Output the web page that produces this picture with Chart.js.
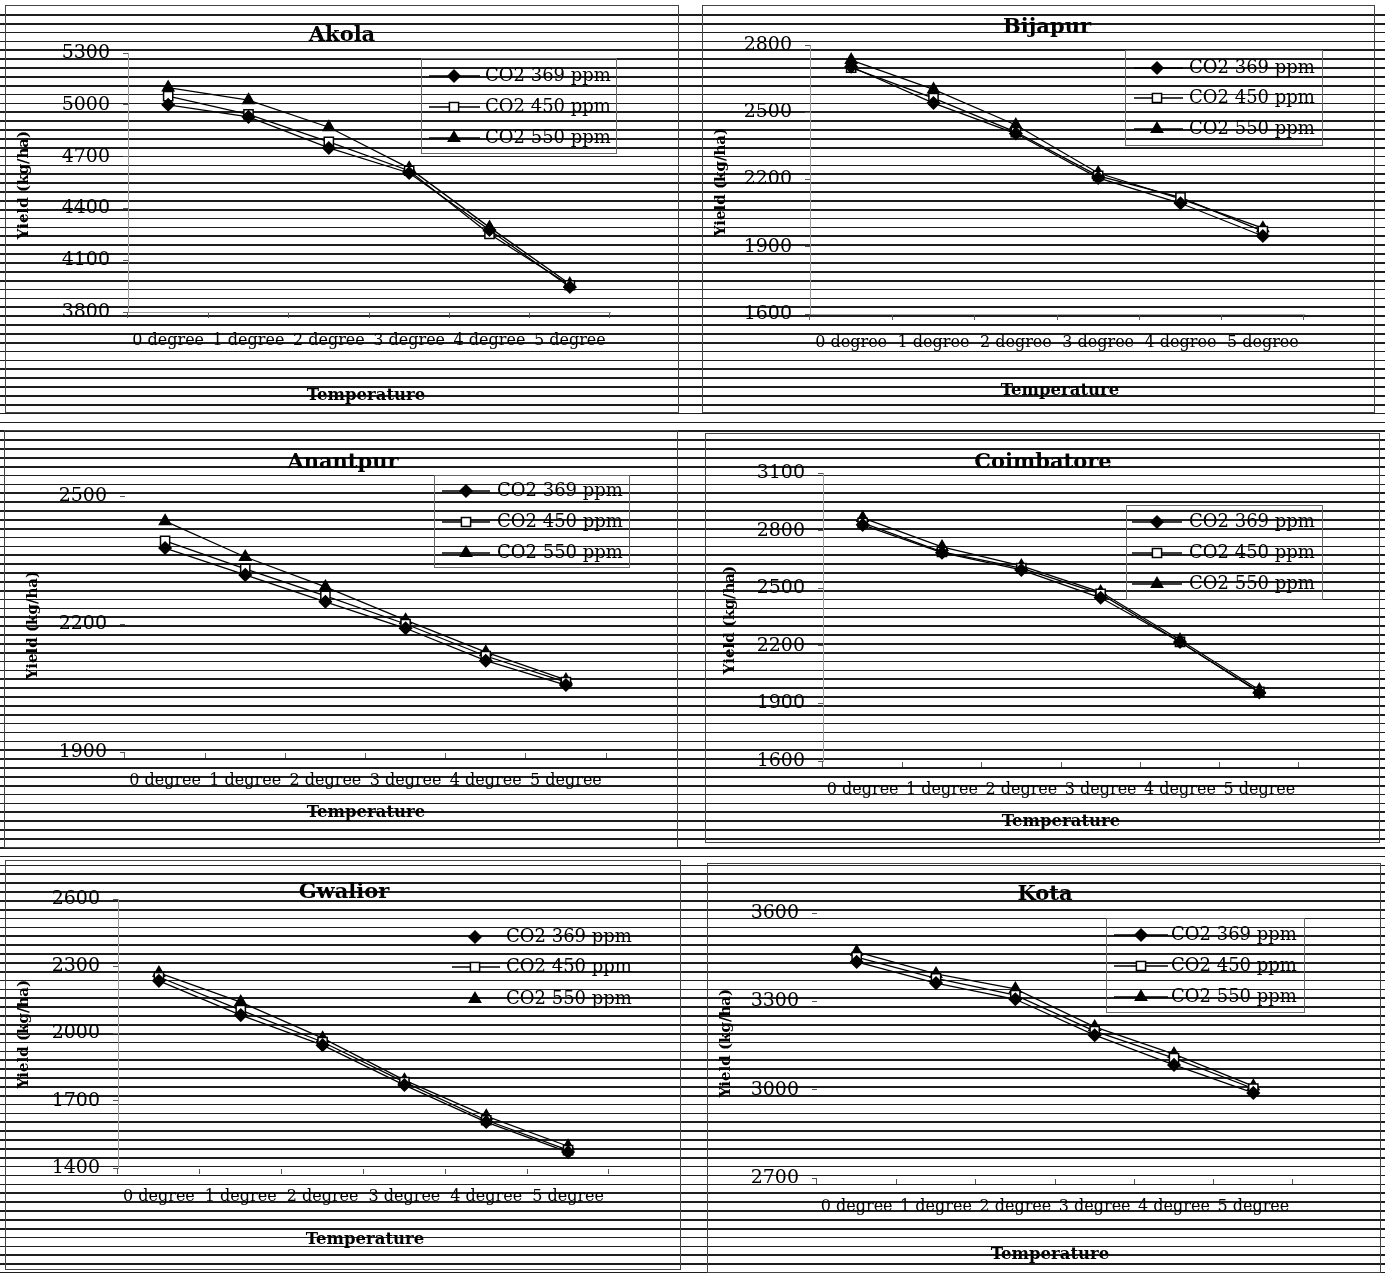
<!DOCTYPE html>
<html>
<head>
<meta charset="utf-8">
<title>Yield vs temperature under CO2 levels</title>
<script src="https://cdn.jsdelivr.net/npm/chart.js@4.4.1/dist/chart.umd.min.js"></script>
<style>
  html, body { margin: 0; padding: 0; background: #fff; }
  body { width: 1385px; height: 1273px; position: relative; overflow: hidden; }
  /* the ruled scan lines running across the whole page */
  #rules {
    position: absolute; left: 0; top: 13.9px; width: 1385px; height: 1260px;
    background: repeating-linear-gradient(to bottom, #1e1e1e 0, #1e1e1e 1.7px, transparent 1.7px, transparent 8.86px);
  }
  .frame { position: absolute; border: 1px solid #444; box-sizing: border-box; }
  canvas { position: absolute; }
</style>
</head>
<body>
<div id="rules"></div>
<script>
const categories = ['0 degree', '1 degree', '2 degree', '3 degree', '4 degree', '5 degree'];
const seriesLabels = ['CO2 369 ppm', 'CO2 450 ppm', 'CO2 550 ppm'];

const akola369 = [5000, 4930, 4750, 4605, 4275, 3945];
const akola450 = [5050, 4945, 4785, 4618, 4252, 3955];
const akola550 = [5100, 5027, 4870, 4633, 4290, 3962];
const akolaTicks = [3800, 4100, 4400, 4700, 5000, 5300];

const bijapur369 = [2703, 2541, 2405, 2207, 2094, 1948];
const bijapur450 = [2699, 2563, 2411, 2216, 2120, 1970];
const bijapur550 = [2733, 2602, 2443, 2229, 2114, 1983];
const bijapurTicks = [1600, 1900, 2200, 2500, 2800];

const anantpur369 = [2378, 2315, 2252, 2190, 2114, 2057];
const anantpur450 = [2395, 2329, 2266, 2200, 2125, 2064];
const anantpur550 = [2441, 2357, 2287, 2209, 2134, 2069];
const anantpurTicks = [1900, 2200, 2500];

const coimbatore369 = [2830, 2685, 2595, 2450, 2220, 1957];
const coimbatore450 = [2840, 2689, 2605, 2470, 2220, 1960];
const coimbatore550 = [2866, 2715, 2616, 2480, 2230, 1970];
const coimbatoreTicks = [1600, 1900, 2200, 2500, 2800, 3100];

const gwalior369 = [2235, 2082, 1948, 1770, 1605, 1471];
const gwalior450 = [2252, 2104, 1962, 1783, 1613, 1480];
const gwalior550 = [2270, 2140, 1979, 1792, 1631, 1497];
const gwaliorTicks = [1400, 1700, 2000, 2300, 2600];

const kota369 = [3434, 3362, 3307, 3185, 3084, 2989];
const kota450 = [3450, 3378, 3321, 3199, 3107, 3004];
const kota550 = [3468, 3393, 3342, 3213, 3121, 3012];
const kotaTicks = [2700, 3000, 3300, 3600];

// marker look for each CO2 level
const seriesStyles = [
  { pointStyle: 'rectRot', pointRadius: 6, pointBackgroundColor: '#000' },
  { pointStyle: 'rect', pointRadius: 6.5, pointBackgroundColor: '#fff' },
  { pointStyle: 'triangle', pointRadius: 6.5, pointBackgroundColor: '#000' }
];

// page geometry of each panel: box, plot area, text anchors, legend
const panels = [
  { name: 'Akola', series: [akola369, akola450, akola550], ticks: akolaTicks,
    box: [5, 5, 679, 413], area: [128, 53, 610, 312],
    title: [342, 36], yTitle: [24, 185], xTitle: [366, 396], yLine: '#999', xLine: '#999',
    legend: { frame: [421, 58, 616, 153], rows: [76, 107, 138], line: [429, 480], marker: 454, text: 485, lines: [1, 1, 1] } },
  { name: 'Bijapur', series: [bijapur369, bijapur450, bijapur550], ticks: bijapurTicks,
    box: [702, 5, 1375, 413], area: [810, 45, 1304, 314],
    title: [1047, 28], yTitle: [721, 182], xTitle: [1060, 391], yLine: '#999', xLine: '#aaa',
    legend: { frame: [1125, 50, 1322, 145], rows: [68, 98, 129], line: [1134, 1183], marker: 1157, text: 1189, lines: [1, 1, 1] } },
  { name: 'Anantpur', series: [anantpur369, anantpur450, anantpur550], ticks: anantpurTicks,
    box: [4, 430, 678, 848], area: [125, 496, 606, 752],
    title: [343, 463], yTitle: [33, 625], xTitle: [366, 813], yLine: 'rgba(0,0,0,0)', xLine: 'rgba(0,0,0,0)',
    legend: { frame: [434, 475, 629, 567], rows: [491, 522, 553], line: [442, 490], marker: 466, text: 497, lines: [1, 1, 1] } },
  { name: 'Coimbatore', series: [coimbatore369, coimbatore450, coimbatore550], ticks: coimbatoreTicks,
    box: [705, 433, 1380, 843], area: [823, 473, 1299, 761],
    title: [1043, 463], yTitle: [730, 620], xTitle: [1061, 822], yLine: '#999', xLine: 'rgba(0,0,0,0)',
    legend: { frame: [1126, 505, 1322, 599], rows: [522, 553, 584], line: [1132, 1182], marker: 1157, text: 1189, lines: [1, 1, 1] } },
  { name: 'Gwalior', series: [gwalior369, gwalior450, gwalior550], ticks: gwaliorTicks,
    box: [5, 860, 681, 1270], area: [118, 899, 609, 1168],
    title: [344, 893], yTitle: [24, 1034], xTitle: [365, 1240], yLine: '#999', xLine: 'rgba(0,0,0,0)',
    legend: { frame: null, rows: [937, 967, 999], line: [452, 500], marker: 475, text: 506, lines: [0, 1, 0] } },
  { name: 'Kota', series: [kota369, kota450, kota550], ticks: kotaTicks,
    box: [707, 863, 1381, 1273], area: [817, 913, 1293, 1178],
    title: [1045, 895], yTitle: [726, 1043], xTitle: [1050, 1255], yLine: 'rgba(0,0,0,0)', xLine: 'rgba(0,0,0,0)',
    legend: { frame: [1106, 918, 1304, 1012], rows: [935, 966, 997], line: [1114, 1168], marker: 1141, text: 1171, lines: [1, 1, 1] } }
];

Chart.defaults.font.family = '"DejaVu Serif", serif';
Chart.defaults.color = '#000';

const Y_W = 90, X_H = 40;

function decor(p) {
  return {
    id: 'decor' + p.name,
    afterDraw(chart) {
      const ctx = chart.ctx;
      const ox = p.box[0], oy = p.box[1];
      ctx.save();
      ctx.fillStyle = '#000';
      ctx.textAlign = 'center';
      ctx.textBaseline = 'middle';
      ctx.font = 'bold 21px "DejaVu Serif"';
      ctx.fillText(p.name, p.title[0] - ox, p.title[1] - oy);
      ctx.font = 'bold 16.5px "DejaVu Serif"';
      ctx.fillText('Temperature', p.xTitle[0] - ox, p.xTitle[1] - oy);
      ctx.save();
      ctx.translate(p.yTitle[0] - ox, p.yTitle[1] - oy);
      ctx.rotate(-Math.PI / 2);
      ctx.font = 'bold 15px "DejaVu Serif"';
      ctx.fillText('Yield (kg/ha)', 0, 0);
      ctx.restore();

      const lg = p.legend;
      if (lg.frame) {
        ctx.strokeStyle = '#666';
        ctx.lineWidth = 1;
        ctx.strokeRect(lg.frame[0] - ox + 0.5, lg.frame[1] - oy + 0.5,
          lg.frame[2] - lg.frame[0], lg.frame[3] - lg.frame[1]);
      }
      lg.rows.forEach((ry, i) => {
        const ds = chart.data.datasets[i];
        const y = ry - oy;
        if (lg.lines[i]) {
          ctx.strokeStyle = '#000';
          ctx.lineWidth = 1.5;
          ctx.beginPath();
          ctx.moveTo(lg.line[0] - ox, y);
          ctx.lineTo(lg.line[1] - ox, y);
          ctx.stroke();
        }
        ctx.fillStyle = ds.pointBackgroundColor;
        ctx.strokeStyle = '#000';
        ctx.lineWidth = 1.5;
        Chart.helpers.drawPoint(ctx, {
          pointStyle: ds.pointStyle, radius: ds.pointRadius, rotation: 0, borderWidth: 1.5
        }, lg.marker - ox, y);
        ctx.fillStyle = '#000';
        ctx.textAlign = 'left';
        ctx.font = '18px "DejaVu Serif"';
        ctx.fillText(ds.label, lg.text - ox, y);
      });
      ctx.restore();
    }
  };
}

panels.forEach(p => {
  const [bl, bt, br, bb] = p.box;
  const [al, at, ar, ab] = p.area;
  const w = br - bl, h = bb - bt;

  const frame = document.createElement('div');
  frame.className = 'frame';
  Object.assign(frame.style, { left: bl + 'px', top: bt + 'px', width: w + 'px', height: h + 'px' });
  document.body.appendChild(frame);

  const cv = document.createElement('canvas');
  cv.width = w; cv.height = h;
  Object.assign(cv.style, { left: bl + 'px', top: bt + 'px', width: w + 'px', height: h + 'px' });
  document.body.appendChild(cv);

  const tk = p.ticks;
  new Chart(cv, {
    type: 'line',
    data: {
      labels: categories,
      datasets: p.series.map((vals, i) => Object.assign({
        label: seriesLabels[i],
        data: vals,
        borderColor: '#000',
        borderWidth: 1.3,
        pointBorderColor: '#000',
        pointBorderWidth: 1.5,
        tension: 0,
        fill: false
      }, seriesStyles[i]))
    },
    options: {
      responsive: false,
      animation: false,
      devicePixelRatio: 1,
      layout: { padding: { left: al - bl - Y_W, top: at - bt, right: br - ar, bottom: bb - ab - X_H } },
      plugins: { legend: { display: false }, title: { display: false }, tooltip: { enabled: false } },
      scales: {
        x: {
          type: 'category',
          offset: true,
          border: { display: true, color: p.xLine, width: 1 },
          grid: { drawOnChartArea: false, offset: true, tickLength: 6, color: '#555' },
          ticks: { font: { size: 16 }, color: '#000', padding: 13, maxRotation: 0, autoSkip: false },
          afterFit: s => { s.height = X_H; }
        },
        y: {
          type: 'linear',
          min: tk[0],
          max: tk[tk.length - 1],
          afterBuildTicks: s => { s.ticks = tk.map(v => ({ value: v })); },
          border: { display: true, color: p.yLine, width: 1 },
          grid: { drawOnChartArea: false, tickLength: 5, color: '#555' },
          ticks: { font: { size: 19 }, color: '#000', padding: 13, callback: v => String(v) },
          afterFit: s => { s.width = Y_W; }
        }
      }
    },
    plugins: [decor(p)]
  });
});
</script>
</body>
</html>
